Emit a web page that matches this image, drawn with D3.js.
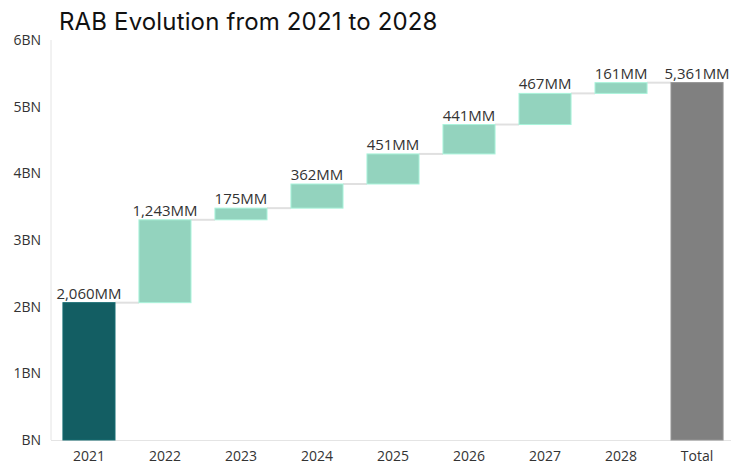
<!DOCTYPE html>
<html>
<head>
<meta charset="utf-8">
<script src="https://cdn.jsdelivr.net/npm/d3@7"></script>
<style>
  html, body { margin: 0; padding: 0; background: #fff; }
  svg { display: block; }
</style>
</head>
<body>
<svg id="chart" width="731" height="465"></svg>
<script>
const categories = ["2021", "2022", "2023", "2024", "2025", "2026", "2027", "2028", "Total"];
const changes = [2060, 1243, 175, 362, 451, 441, 467, 161, 5361]; // MM
const kinds = ["start", "inc", "inc", "inc", "inc", "inc", "inc", "inc", "total"];
const yTicks = [0, 1000, 2000, 3000, 4000, 5000, 6000];
const yTickLabels = ["BN", "1BN", "2BN", "3BN", "4BN", "5BN", "6BN"];
const title = "RAB Evolution from 2021 to 2028";

const colors = { start: "#135e63", inc: "#93d3be", total: "#808080" };

const svg = d3.select("#chart");
const W = 731, H = 465;
const m = { left: 51, right: -4, top: 40, bottom: 25 };

// build waterfall data
let running = 0;
const data = categories.map((c, i) => {
  let y0, y1;
  if (kinds[i] === "total" || kinds[i] === "start") { y0 = 0; y1 = changes[i]; running = changes[i]; }
  else { y0 = running; y1 = running + changes[i]; running = y1; }
  return { cat: c, y0, y1, value: changes[i], kind: kinds[i] };
});

const x = d3.scaleBand().domain(categories).range([m.left, W - m.right]).paddingInner(0.315).paddingOuter(0.157);
const y = d3.scaleLinear().domain([0, 6000]).range([H - m.bottom, m.top]);

// title
svg.append("text")
  .attr("x", 59).attr("y", 30)
  .attr("font-family", "Inter, 'Liberation Sans', sans-serif")
  .attr("font-size", 24)
  .attr("letter-spacing", 0.15)
  .attr("fill", "#111")
  .text(title);

// axis lines
svg.append("line").attr("x1", m.left).attr("x2", m.left).attr("y1", y(6000)).attr("y2", y(0))
  .attr("stroke", "#e4e4e4").attr("stroke-width", 1);
svg.append("line").attr("x1", m.left).attr("x2", W).attr("y1", y(0) + 0.5).attr("y2", y(0) + 0.5)
  .attr("stroke", "#e4e4e4").attr("stroke-width", 1);

// y axis
const yAxis = d3.axisLeft(y).tickValues(yTicks).tickSize(0).tickPadding(10)
  .tickFormat((d, i) => yTickLabels[i]);
const gy = svg.append("g").attr("transform", `translate(${m.left},0)`).call(yAxis);
gy.select(".domain").remove();
gy.selectAll("text").attr("font-family", "'Open Sans', 'Noto Sans', sans-serif")
  .attr("font-size", 14).attr("fill", "#333");

// x axis
const xAxis = d3.axisBottom(x).tickSize(0).tickPadding(11);
const gx = svg.append("g").attr("transform", `translate(0,${y(0)})`).call(xAxis);
gx.select(".domain").remove();
gx.selectAll("text").attr("font-family", "'Open Sans', 'Noto Sans', sans-serif")
  .attr("font-size", 14).attr("fill", "#333");

// connectors
for (let i = 0; i < data.length - 1; i++) {
  const d = data[i];
  svg.append("line")
    .attr("x1", x(d.cat) + x.bandwidth()).attr("x2", x(data[i + 1].cat))
    .attr("y1", y(d.y1)).attr("y2", y(d.y1))
    .attr("stroke", "#e0e0e0").attr("stroke-width", 2);
}

// bars
svg.append("g").selectAll("rect").data(data).join("rect")
  .attr("x", d => x(d.cat))
  .attr("width", x.bandwidth())
  .attr("y", d => y(Math.max(d.y0, d.y1)))
  .attr("height", d => Math.abs(y(d.y0) - y(d.y1)))
  .attr("fill", d => colors[d.kind])
  .attr("stroke", d => d3.color(colors[d.kind]).brighter(0.4))
  .attr("stroke-width", 1);

// labels
const fmt = d3.format(",");
svg.append("g").selectAll("text").data(data).join("text")
  .attr("x", d => x(d.cat) + x.bandwidth() / 2)
  .attr("y", d => y(Math.max(d.y0, d.y1)) - 4)
  .attr("text-anchor", "middle")
  .attr("font-family", "'Open Sans', 'Noto Sans', sans-serif")
  .attr("font-size", 15)
  .attr("fill", "#333")
  .text(d => fmt(d.value) + "MM");
</script>
</body>
</html>
